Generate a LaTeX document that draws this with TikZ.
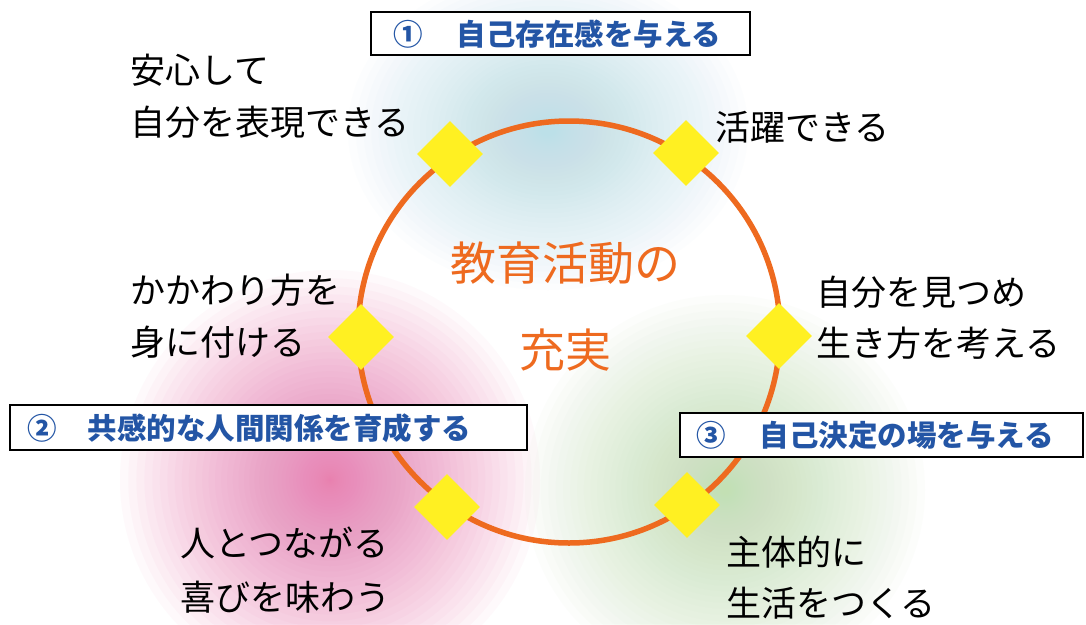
\documentclass[tikz,border=0pt]{standalone}
\usepackage{fontspec}
\newfontfamily\cjk{Noto Sans CJK JP}
\usetikzlibrary{shapes.geometric}
\definecolor{ring}{RGB}{238,106,31}
\definecolor{hdrblue}{RGB}{35,85,165}
\definecolor{dia}{RGB}{255,240,34}
\definecolor{glowblue}{RGB}{188,224,232}
\definecolor{glowpink}{RGB}{232,120,176}
\definecolor{glowgreen}{RGB}{195,224,180}
\tikzset{
  lab/.style={font=\cjk\fontsize{35}{35}\selectfont, text=black, inner sep=0pt, anchor=base west},
  ctr/.style={font=\cjk\fontsize{46}{46}\selectfont, text=ring, inner sep=0pt, anchor=base},
  hdr/.style={font=\cjk\bfseries\fontsize{29.5}{29.5}\selectfont, text=hdrblue, inner sep=0pt, anchor=base west},
  hdrbox/.style={draw=black, line width=1.6pt, fill=white, inner sep=0pt},
  dmd/.style={diamond, aspect=1, fill=dia, draw=none, minimum size=66pt, inner sep=0pt},
  ringline/.style={draw=ring, line width=5.5pt}
}
\newcommand{\glowblob}[5]{% color, x, y, rx, ry
  \foreach \k in {1,...,50}{
    \pgfmathsetmacro{\ff}{(\k/50)^2}
    \fill[#1, opacity=0.045] (#2,#3) ellipse ({#4*\ff} and {#5*\ff});
  }}
\begin{document}
\begin{tikzpicture}[x=1pt,y=-1pt]
\useasboundingbox (0,0) rectangle (1086,624);
\fill[white] (0,0) rectangle (1086,624);
\begin{scope}
\clip (0,0) rectangle (1086,624);
\glowblob{glowblue}{548}{130}{200}{160}
\glowblob{glowpink}{330}{480}{210}{210}
\glowblob{glowgreen}{725}{490}{200}{195}
\end{scope}
% ring
\node (ring) [circle, ringline, minimum size=422pt, inner sep=0pt] at (569,332) {};
% diamonds
\node (d1) [dmd] at (450,154) {};
\node (d2) [dmd] at (686,153) {};
\node (d3) [dmd] at (361,337) {};
\node (d4) [dmd] at (779,336) {};
\node (d5) [dmd] at (447,507) {};
\node (d6) [dmd] at (687,505) {};
% centre text
\node (c1) [ctr] at (565,280) {教育活動の};
\node (c2) [ctr] at (565,367) {充実};
% header boxes
\node (b1) [hdrbox, minimum width=379pt, minimum height=43pt] at (560.5,33.5) {};
\node (h1) [hdr] at (393,45) {①\hspace{34pt}自己存在感を与える};
\node (b2) [hdrbox, minimum width=517pt, minimum height=45pt] at (268.5,427.5) {};
\node (h2) [hdr] at (27,439) {②\hspace{31pt}共感的な人間関係を育成する};
\node (b3) [hdrbox, minimum width=403pt, minimum height=44pt] at (881.5,435) {};
\node (h3) [hdr] at (696,446) {③\hspace{34pt}自己決定の場を与える};
% labels
\node (l1a) [lab] at (130,83) {安心して};
\node (l1b) [lab] at (130,135) {自分を表現できる};
\node (l2) [lab] at (715,140) {活躍できる};
\node (l3a) [lab] at (130,303) {かかわり方を};
\node (l3b) [lab] at (130,355) {身に付ける};
\node (l4a) [lab] at (816,305) {自分を見つめ};
\node (l4b) [lab] at (816,356) {生き方を考える};
\node (l5a) [lab] at (180,556) {人とつながる};
\node (l5b) [lab] at (180,610) {喜びを味わう};
\node (l6a) [lab] at (726,565) {主体的に};
\node (l6b) [lab] at (726,616) {生活をつくる};
\end{tikzpicture}
\end{document}
